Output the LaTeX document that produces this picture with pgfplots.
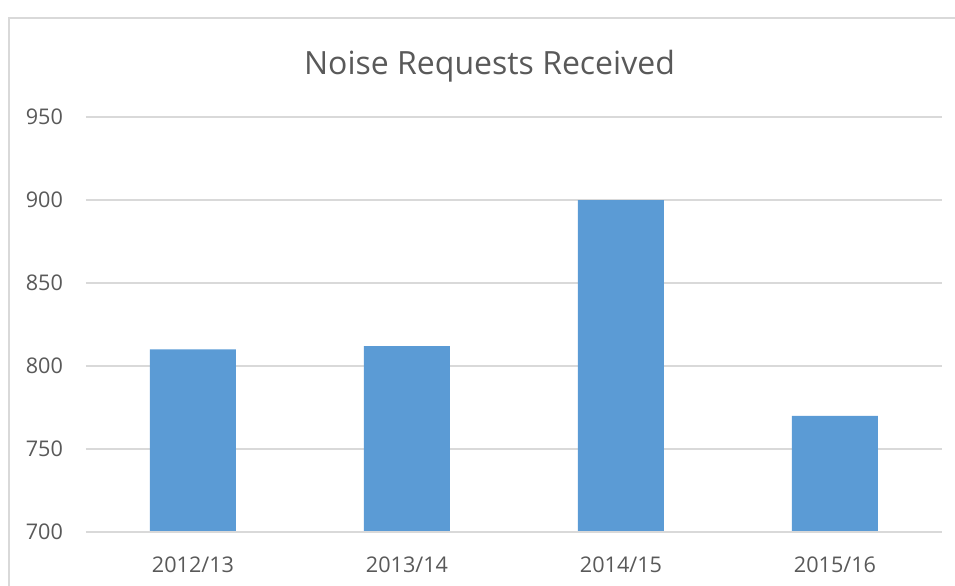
\documentclass[border=0pt]{standalone}
\usepackage{fontspec}
\setmainfont{Open Sans}
\usepackage{pgfplots}
\pgfplotsset{compat=1.18}
\definecolor{barblue}{HTML}{5B9BD5}
\definecolor{gridgray}{HTML}{D9D9D9}
\definecolor{txtgray}{HTML}{595959}
\begin{document}
\begin{tikzpicture}
% page: 955x585 px at 0.5pt per px, axis box lower left at px (86,532)
\useasboundingbox (-43pt,-26.5pt) rectangle (434.5pt,266pt);
\draw[gridgray, line width=1pt] (-38.5pt,-27pt) -- (-38.5pt,257pt) -- (435pt,257pt);
\begin{axis}[
    scale only axis,
    width=428pt, height=207.5pt,
    at={(0,0)}, anchor=south west,
    xmin=-0.5, xmax=3.5,
    ymin=700, ymax=950,
    ytick={700,750,...,950},
    xtick=data,
    xticklabels={2012/13,2013/14,2014/15,2015/16},
    axis line style={draw=none},
    axis x line*=bottom,
    axis y line*=left,
    major tick length=0pt,
    ymajorgrids,
    grid style={gridgray, line width=0.6pt},
    tick label style={font=\fontsize{10.8}{13}\selectfont, text=txtgray},
    yticklabel style={xshift=-8pt},
    xticklabel style={yshift=-9pt},
    /pgf/number format/assume math mode=true,
    ybar, bar width=43pt,
    clip=false,
]
\addplot[fill=barblue, draw=none] coordinates {
    (0,810) (1,812) (2,900) (3,770)
};
\draw[gridgray, line width=0.6pt] (rel axis cs:0,0) -- (rel axis cs:1,0);
\end{axis}
\node[text=txtgray, font=\fontsize{16}{19}\selectfont] at (201.75pt,233pt) {Noise Requests Received};
\end{tikzpicture}
\end{document}
